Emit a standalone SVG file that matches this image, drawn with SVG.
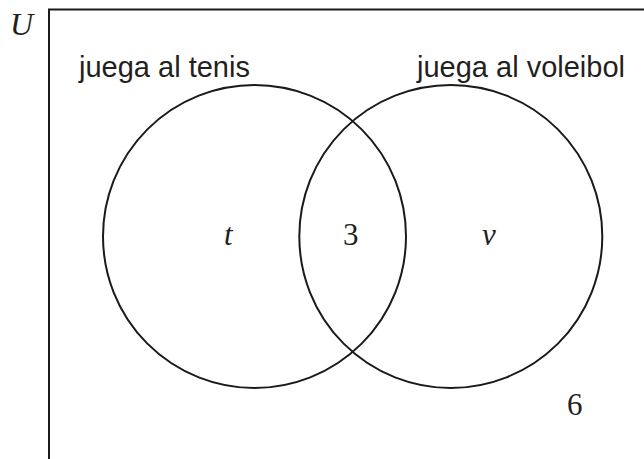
<svg xmlns="http://www.w3.org/2000/svg" width="644" height="459" viewBox="0 0 644 459">
<style>
.ln{fill:none;stroke:#1a1a1a;stroke-width:2}
.lbl{font-family:"Liberation Sans",Arial,sans-serif;font-size:29px;fill:#231f20}
.mt{font-family:"Liberation Serif","Times New Roman",serif;font-size:31px;fill:#231f20}
.it{font-style:italic}
</style>
<rect width="644" height="459" fill="#fff"/>
<g id="universe">
<path class="ln" d="M49,470 V9.5 H650"/>
<text class="mt it" x="10" y="35" style="font-size:32px">U</text>
</g>
<g id="tenis">
<circle class="ln" cx="254.5" cy="236.5" r="151.5"/>
<text class="lbl" x="79" y="77">juega al tenis</text>
<text class="mt it" x="224" y="245">t</text>
</g>
<g id="voleibol">
<circle class="ln" cx="450.8" cy="236.5" r="151.5"/>
<text class="lbl" x="417" y="77">juega al voleibol</text>
<text class="mt it" x="482" y="245">v</text>
</g>
<g id="interseccion">
<text class="mt" x="343" y="245">3</text>
</g>
<g id="fuera">
<text class="mt" x="567" y="415">6</text>
</g>
<g id="connectors"></g>
</svg>
